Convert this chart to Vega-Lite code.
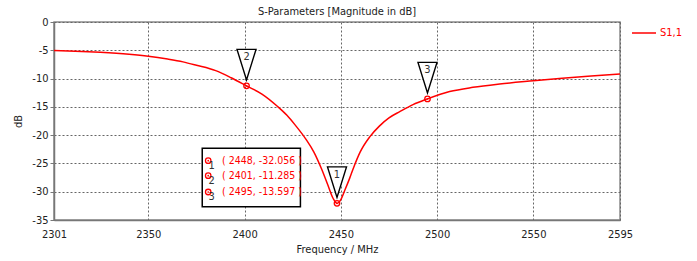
{
  "$schema": "https://vega.github.io/schema/vega-lite/v6.json",
  "width": 566,
  "height": 198,
  "autosize": {"type": "none"},
  "padding": {"left": 54, "top": 22, "right": 77, "bottom": 41},
  "background": "white",
  "config": {
    "font": "DejaVu Sans Condensed, Liberation Sans, sans-serif",
    "view": {"stroke": "#8a8a8a", "strokeWidth": 1.5}
  },
  "title": {"text": "S-Parameters [Magnitude in dB]", "fontSize": 11, "fontWeight": "normal", "color": "#222", "offset": -1, "anchor": "middle"},
  "datasets": {
    "curve": [
      {"f": 2301, "db": -5.05}, {"f": 2312, "db": -5.15}, {"f": 2325, "db": -5.35}, {"f": 2340, "db": -5.7},
      {"f": 2350, "db": -6.05}, {"f": 2360, "db": -6.55}, {"f": 2368, "db": -7.05}, {"f": 2375, "db": -7.65},
      {"f": 2385, "db": -8.6}, {"f": 2393, "db": -9.85}, {"f": 2401, "db": -11.285}, {"f": 2409, "db": -12.75},
      {"f": 2417, "db": -14.9}, {"f": 2422, "db": -16.5}, {"f": 2426, "db": -18.1}, {"f": 2432, "db": -20.8},
      {"f": 2436, "db": -23.0}, {"f": 2440, "db": -26.0}, {"f": 2443, "db": -28.6}, {"f": 2446, "db": -31.2},
      {"f": 2448, "db": -32.056}, {"f": 2450, "db": -31.4}, {"f": 2452, "db": -29.8}, {"f": 2454.6, "db": -27.6},
      {"f": 2457, "db": -25.4}, {"f": 2460, "db": -23.0}, {"f": 2465, "db": -20.3}, {"f": 2470, "db": -18.4},
      {"f": 2475, "db": -16.95}, {"f": 2480.6, "db": -15.85}, {"f": 2487.5, "db": -14.6}, {"f": 2495, "db": -13.597},
      {"f": 2506.5, "db": -12.3}, {"f": 2518.6, "db": -11.55}, {"f": 2532.5, "db": -10.96}, {"f": 2550, "db": -10.4},
      {"f": 2565, "db": -9.95}, {"f": 2580, "db": -9.55}, {"f": 2595, "db": -9.2}
    ],
    "markers": [
      {"id": "1", "f": 2448, "db": -32.056, "label": "( 2448, -32.056 )", "readout_db": -24.52},
      {"id": "2", "f": 2401, "db": -11.285, "label": "( 2401, -11.285 )", "readout_db": -27.17},
      {"id": "3", "f": 2495, "db": -13.597, "label": "( 2495, -13.597 )", "readout_db": -30.05}
    ]
  },
  "layer": [
    {
      "data": {"name": "curve"},
      "mark": {"type": "line", "strokeWidth": 1.5, "interpolate": "monotone"},
      "encoding": {
        "x": {
          "field": "f", "type": "quantitative",
          "scale": {"domain": [2301, 2595], "nice": false, "zero": false},
          "axis": {
            "title": "Frequency / MHz",
            "values": [2301, 2350, 2400, 2450, 2500, 2550, 2595],
            "labelExpr": "'' + datum.value",
            "labelFlush": false, "labelOverlap": false, "labelBound": false,
            "grid": true, "gridDash": [2, 2], "gridColor": "#666", "gridOpacity": 1,
            "domainColor": "#777", "domainWidth": 1.5, "ticks": false,
            "labelPadding": 8, "titlePadding": 4,
            "labelFontSize": 11, "titleFontSize": 11, "titleFontWeight": "normal",
            "labelColor": "#222", "titleColor": "#222"
          }
        },
        "y": {
          "field": "db", "type": "quantitative",
          "scale": {"domain": [-35, 0], "nice": false, "zero": false},
          "axis": {
            "title": "dB",
            "tickCount": 7,
            "labelExpr": "'' + datum.value",
            "labelOverlap": false, "labelBound": false,
            "grid": true, "gridDash": [2, 2], "gridColor": "#666", "gridOpacity": 1,
            "domainColor": "#777", "domainWidth": 1.5, "tickColor": "#777", "tickSize": 4,
            "labelPadding": 2, "titlePadding": 8,
            "labelFontSize": 11, "titleFontSize": 11, "titleFontWeight": "normal",
            "labelColor": "#222", "titleColor": "#222"
          }
        },
        "stroke": {
          "datum": "S1,1", "type": "nominal",
          "scale": {"domain": ["S1,1"], "range": ["#ff0000"]},
          "legend": {
            "title": null, "orient": "right", "offset": 13, "padding": 0,
            "symbolType": "M-1.2,0L1.2,0", "symbolSize": 400, "symbolStrokeWidth": 1.5,
            "labelColor": "#ff0000", "labelFontSize": 11, "labelOffset": 5
          }
        }
      }
    },
    {
      "data": {"name": "markers"},
      "mark": {"type": "point", "shape": "M-0.95,-3.65L0.95,-3.65L0,-0.6Z", "size": 400, "filled": false, "fill": "white", "fillOpacity": 1, "stroke": "black", "strokeWidth": 1.4, "opacity": 1},
      "encoding": {
        "x": {"field": "f", "type": "quantitative"},
        "y": {"field": "db", "type": "quantitative"}
      }
    },
    {
      "data": {"name": "markers"},
      "mark": {"type": "text", "dy": -28.5, "fontSize": 11, "color": "#333", "baseline": "middle", "align": "center"},
      "encoding": {
        "x": {"field": "f", "type": "quantitative"},
        "y": {"field": "db", "type": "quantitative"},
        "text": {"field": "id"}
      }
    },
    {
      "data": {"name": "markers"},
      "mark": {"type": "point", "shape": "circle", "size": 30, "filled": false, "stroke": "#ff0000", "strokeWidth": 1.3, "opacity": 1},
      "encoding": {
        "x": {"field": "f", "type": "quantitative"},
        "y": {"field": "db", "type": "quantitative"}
      }
    },
    {
      "data": {"name": "markers"},
      "mark": {"type": "point", "shape": "circle", "size": 3, "filled": true, "color": "#ff0000", "opacity": 1},
      "encoding": {
        "x": {"field": "f", "type": "quantitative"},
        "y": {"field": "db", "type": "quantitative"}
      }
    },
    {
      "data": {"values": [{"note": "readout"}]},
      "mark": {"type": "rect", "fill": "white", "stroke": "black", "strokeWidth": 1.5},
      "encoding": {
        "x": {"datum": 2378, "type": "quantitative"},
        "x2": {"datum": 2429},
        "y": {"datum": -22.33, "type": "quantitative"},
        "y2": {"datum": -32.65}
      }
    },
    {
      "data": {"name": "markers"},
      "mark": {"type": "point", "shape": "circle", "size": 30, "filled": false, "stroke": "#ff0000", "strokeWidth": 1.3, "opacity": 1},
      "encoding": {
        "x": {"datum": 2381.1, "type": "quantitative"},
        "y": {"field": "readout_db", "type": "quantitative"}
      }
    },
    {
      "data": {"name": "markers"},
      "mark": {"type": "point", "shape": "circle", "size": 3, "filled": true, "color": "#ff0000", "opacity": 1},
      "encoding": {
        "x": {"datum": 2381.1, "type": "quantitative"},
        "y": {"field": "readout_db", "type": "quantitative"}
      }
    },
    {
      "data": {"name": "markers"},
      "mark": {"type": "text", "dx": 3.5, "dy": 5.5, "fontSize": 11, "color": "#333", "baseline": "middle", "align": "center"},
      "encoding": {
        "x": {"datum": 2381.1, "type": "quantitative"},
        "y": {"field": "readout_db", "type": "quantitative"},
        "text": {"field": "id"}
      }
    },
    {
      "data": {"name": "markers"},
      "mark": {"type": "text", "fontSize": 10.5, "color": "#ff0000", "baseline": "middle", "align": "left"},
      "encoding": {
        "x": {"datum": 2388.3, "type": "quantitative"},
        "y": {"field": "readout_db", "type": "quantitative"},
        "text": {"field": "label"}
      }
    }
  ]
}
